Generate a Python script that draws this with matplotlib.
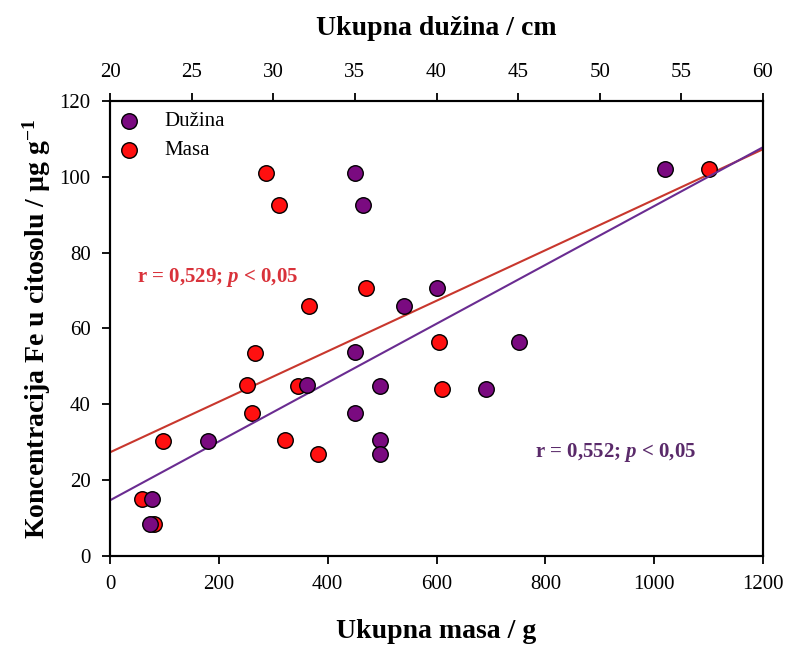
import matplotlib
matplotlib.use('Agg')
import matplotlib.pyplot as plt
import numpy as np

# podaci ocitani sa slike
masa = [59, 81, 97, 251, 260, 267, 286, 311, 322, 346, 366, 382, 470, 605, 611, 1101]
fe_masa = [15.1, 8.4, 30.2, 45.2, 37.6, 53.6, 100.9, 92.6, 30.6, 44.9, 65.8, 26.9, 70.6, 56.5, 44.0, 102.0]

duzina = [22.55, 22.45, 26.0, 32.07, 35.03, 35.03, 36.54, 36.54, 36.54, 38.0, 40.03, 35.03, 35.5, 45.05, 43.03, 54.0]
fe_duzina = [15.1, 8.4, 30.2, 45.2, 53.7, 37.6, 44.9, 30.6, 26.9, 65.8, 70.6, 100.9, 92.6, 56.4, 44.0, 102.0]

masa_ticks = [0, 200, 400, 600, 800, 1000, 1200]
duzina_ticks = [20, 25, 30, 35, 40, 45, 50, 55, 60]
fe_ticks = [0, 20, 40, 60, 80, 100, 120]

plt.rcParams['font.family'] = 'Liberation Serif'
plt.rcParams['mathtext.fontset'] = 'custom'
plt.rcParams['mathtext.rm'] = 'Liberation Serif'
plt.rcParams['mathtext.it'] = 'Liberation Serif:italic'
plt.rcParams['mathtext.bf'] = 'Liberation Serif:bold'
plt.rcParams['mathtext.bfit'] = 'Liberation Serif:italic:bold'

ljubicasta = '#7a0a80'
crvena = '#ff1010'
linija_lj = '#6a2c91'
linija_cr = '#c8372d'

fig = plt.figure(figsize=(7.87, 6.46), dpi=100)
ax = fig.add_axes([0.1398, 0.1393, 0.8297, 0.7044])
ax2 = ax.twiny()

# regresijske linije
k_m = np.polyfit(masa, fe_masa, 1)
xm = np.array([0, 1200])
ax.plot(xm, np.polyval(k_m, xm), color=linija_cr, lw=1.5, zorder=1)

k_d = np.polyfit(duzina, fe_duzina, 1)
xd = np.array([20, 60])
ax2.plot(xd, np.polyval(k_d, xd), color=linija_lj, lw=1.5, zorder=1)

ax.scatter(masa, fe_masa, s=125, color=crvena, edgecolor='black', linewidth=1, zorder=3)
ax2.scatter(duzina, fe_duzina, s=125, color=ljubicasta, edgecolor='black', linewidth=1, zorder=3)

ax.set_xlim(0, 1200)
ax.set_ylim(0, 120)
ax2.set_xlim(20, 60)
ax.set_xticks(masa_ticks)
ax.set_yticks(fe_ticks)
ax2.set_xticks(duzina_ticks)

for a in (ax, ax2):
    a.tick_params(direction='out', length=6, width=1.3, labelsize=15, pad=8)
    for s in a.spines.values():
        s.set_linewidth(1.5)
ax2.tick_params(axis='y', right=False)

ax.set_xlabel('Ukupna masa / g', fontsize=20, fontweight='bold', labelpad=18)
ax2.set_xlabel('Ukupna dužina / cm', fontsize=20, fontweight='bold', labelpad=20)
ax.set_ylabel(r'Koncentracija Fe u citosolu / µg g$^{\mathbf{-1}}$', fontsize=20, fontweight='bold', labelpad=5)

ax.text(50, 73.5, r'r = 0,529; $\mathbfit{p}$ < 0,05', color='#d9323a', fontsize=15,
        fontweight='bold', va='center')
ax.text(781, 27.3, r'r = 0,552; $\mathbfit{p}$ < 0,05', color='#5a2a6a', fontsize=15,
        fontweight='bold', va='center')

# legenda
h1 = ax.scatter([], [], s=125, color=ljubicasta, edgecolor='black', linewidth=1)
h2 = ax.scatter([], [], s=125, color=crvena, edgecolor='black', linewidth=1)
ax.legend([h1, h2], ['Dužina', 'Masa'], loc='upper left', frameon=False, fontsize=15,
          handlelength=1.0, handletextpad=1.2, borderaxespad=0.0, labelspacing=0.45,
          bbox_to_anchor=(0.0, 0.995))

plt.savefig('out.png', dpi=100)
